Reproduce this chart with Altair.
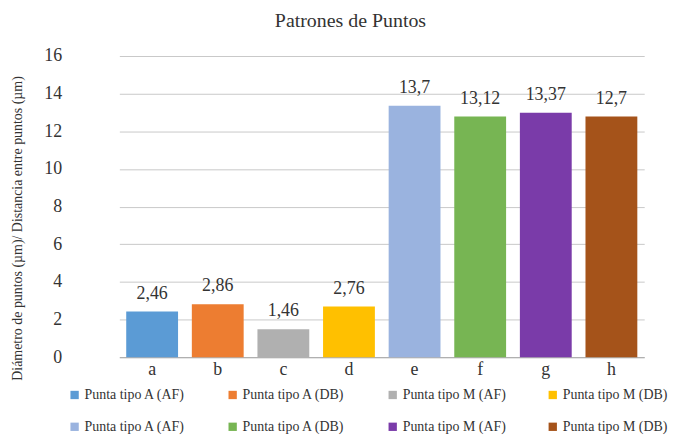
import altair as alt
import pandas as pd

categories = ["a", "b", "c", "d", "e", "f", "g", "h"]
bar_heights = [2.43, 2.81, 1.48, 2.69, 13.36, 12.78, 12.99, 12.78]
value_labels = ["2,46", "2,86", "1,46", "2,76", "13,7", "13,12", "13,37", "12,7"]
legend_names = ["Punta tipo A (AF)", "Punta tipo A (DB)", "Punta tipo M (AF)", "Punta tipo M (DB)",
                "Punta tipo A (AF)", "Punta tipo A (DB)", "Punta tipo M (AF)", "Punta tipo M (DB)"]
colors = ["#5B9BD5", "#ED7D31", "#B0B0B0", "#FFC000", "#9AB3DF", "#77B553", "#7A3BA9", "#A5531A"]
y_ticks = [0, 2, 4, 6, 8, 10, 12, 14, 16]

df = pd.DataFrame({"cat": categories, "h": bar_heights, "lab": value_labels})

FONT = "Liberation Serif"
names_js = "[" + ",".join("'" + n + "'" for n in legend_names) + "]"
cats_js = "[" + ",".join("'" + c + "'" for c in categories) + "]"

x = alt.X("cat:N", sort=categories, title=None,
          scale=alt.Scale(range=[50, 578], paddingInner=0.21, paddingOuter=0.105),
          axis=alt.Axis(labelAngle=0, ticks=False, domainColor="#a6a6a6", labelFont=FONT,
                        labelFontSize=18, labelColor="#333333", labelPadding=3))
y = alt.Y("h:Q", title="Diámetro de puntos (µm)/ Distancia entre puntos (µm)",
          scale=alt.Scale(domain=[0, 16], nice=False),
          axis=alt.Axis(values=y_ticks, domain=False, ticks=False, gridColor="#c9c9c9",
                        labelOverlap=False, labelFont=FONT, labelFontSize=18, labelColor="#333333",
                        labelPadding=8,
                        titleFont=FONT, titleFontSize=14, titleFontWeight="normal", titleColor="#333333",
                        titleAngle=270, titleX=-52, titleY=173, titleAlign="center", titleBaseline="middle"))

base = alt.Chart(df).encode(x=x, y=y)

bars = base.mark_bar().encode(
    color=alt.Color("cat:N", sort=categories,
                    scale=alt.Scale(domain=categories, range=colors),
                    legend=alt.Legend(title=None, orient="none", legendX=-2, legendY=334,
                                      direction="horizontal", columns=4, symbolType="square",
                                      symbolSize=70, symbolStrokeWidth=0, labelFont=FONT,
                                      labelFontSize=14, labelColor="#333333", columnPadding=40,
                                      rowPadding=18, symbolOffset=0, labelOffset=3,
                                      labelExpr=names_js + "[indexof(" + cats_js + ", datum.label)]")),
)

text = base.mark_text(font=FONT, fontSize=18, color="#333333", dy=-18, baseline="middle").encode(
    text="lab:N")

chart = (bars + text).properties(
    width=613, height=303,
    autosize=alt.AutoSizeParams(type="none"),
    padding={"left": 62, "top": 47, "right": 0, "bottom": 80},
    title=alt.TitleParams("Patrones de Puntos", font=FONT, fontSize=20, fontWeight="normal",
                          color="#333333", anchor="middle", dx=-24, offset=16),
).configure_view(stroke=None)

chart.save("out.html", embed_options={"renderer": "svg", "actions": False})
